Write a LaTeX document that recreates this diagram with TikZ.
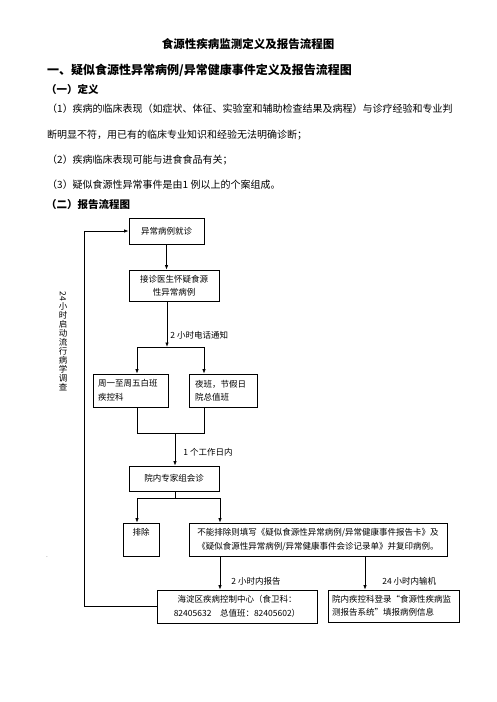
\documentclass[tikz,border=0pt]{standalone}
\usepackage{fontspec}
\setmainfont{Noto Sans CJK SC}
\usetikzlibrary{arrows.meta, positioning}

\begin{document}
\begin{tikzpicture}[x=1pt, y=-1pt,
	box/.style={draw, line width=0.8pt, inner sep=3pt, font=\fontsize{8.5}{13.5}\selectfont},
	flow/.style={line width=0.8pt},
	arr/.style={flow, -{Latex[length=4.5pt, width=3.5pt]}},
	lbl/.style={font=\fontsize{8.5}{10}\selectfont, inner sep=0pt},
	body/.style={font=\fontsize{10}{12}\selectfont, anchor=west, inner sep=0pt},
	head/.style={font=\bfseries\fontsize{10.5}{12}\selectfont, anchor=west, inner sep=0pt}]

\useasboundingbox[fill=white] (0,0) rectangle (496,702); % page

% heading and definition text
\node[font=\bfseries\fontsize{11.5}{13}\selectfont, inner sep=0pt] (title) at (248,44) {食源性疾病监测定义及报告流程图};
\node[font=\bfseries\fontsize{12}{14}\selectfont, anchor=west, inner sep=0pt] (part1) at (47,70) {一、疑似食源性异常病例/异常健康事件定义及报告流程图};
\node[head] (def) at (46,89) {（一）定义};
\node[body] (def1a) at (47,109) {（1）疾病的临床表现（如症状、体征、实验室和辅助检查结果及病程）与诊疗经验和专业判};
\node[body] (def1b) at (47,135) {断明显不符，用已有的临床专业知识和经验无法明确诊断；};
\node[body] (def2) at (47,160) {（2）疾病临床表现可能与进食食品有关；};
\node[body] (def3) at (47,185) {（3）疑似食源性异常事件是由1 例以上的个案组成。};
\node[head] (flowhead) at (46,205) {（二）报告流程图};

% boxes
\node[box, minimum width=75pt, minimum height=26pt] (visit) at (166.5,231) {异常病例就诊};
\node[box, minimum width=90pt, minimum height=31pt, align=center] (suspect) at (174,285.5) {接诊医生怀疑食源\\性异常病例};
\node[box, text width=65pt, inner xsep=5pt, minimum height=33pt, align=left] (weekday) at (130.5,390.5) {周一至周五白班\\疾控科};
\node[box, text width=56pt, inner xsep=6pt, minimum height=33pt, align=left] (holiday) at (223,390.5) {夜班，节假日\\院总值班};
\node[box, minimum width=90pt, minimum height=25pt] (expert) at (174,478.5) {院内专家组会诊};
\node[box, minimum width=36pt, minimum height=33pt,
	label={[lbl, anchor=north, yshift=-5pt]north:排除}] (exclude) at (141,539.5) {};
\node[box, minimum width=258pt, minimum height=33pt, align=center] (report) at (318,539.5) {不能排除则填写《疑似食源性异常病例/异常健康事件报告卡》及\\《疑似食源性异常病例/异常健康事件会诊记录单》并复印病例。};
\node[box, minimum width=160pt, minimum height=33pt, align=center] (cdc) at (237,606.5) {海淀区疾病控制中心（食卫科：\\82405632\quad 总值班：82405602）};
\node[box, text width=123pt, inner xsep=4pt, minimum height=32pt, align=left] (system) at (393.5,606) {院内疾控科登录“食源性疾病监\\测报告系统”填报病例信息};

\node[lbl, align=center, font=\fontsize{8.5}{9}\selectfont] (survey) at (63,341) {\rotatebox{-90}{24}\\小\\时\\启\\动\\流\\行\\病\\学\\调\\查};
\node[lbl, font=\tiny] (dot) at (47,557) {.};

% branch points
\coordinate (split) at (167,347);
\coordinate (splitL) at (137,347);
\coordinate (splitR) at (204,347);
\coordinate (joinL) at (137,433);
\coordinate (joinR) at (204,433);
\coordinate (join) at (175,433);
\coordinate (split2) at (175,498);
\coordinate (split2L) at (137,498);
\coordinate (split2R) at (220,498);
\coordinate (tap) at (365,556);
\coordinate (back) at (84,606.5);

% connectors
\draw[arr] (visit.south) -- (visit.south |- suspect.north);
\draw[arr] (split |- suspect.south) -- node[lbl, pos=0.75, right=3pt] {2 小时电话通知} (split);
\draw[flow] (splitL) -- (splitR);
\draw[arr] (splitL) -- (splitL |- weekday.north);
\draw[arr] (splitR) -- (splitR |- holiday.north);
\draw[flow] (joinL |- weekday.south) -- (joinL) -- (joinR) -- (joinR |- holiday.south);
\draw[arr] (join) -- node[lbl, pos=0.58, right=8pt] {1 个工作日内} (join |- expert.north);
\draw[flow] (join |- expert.south) -- (split2);
\draw[flow] (split2L) -- (split2R);
\draw[arr] (split2L) -- (split2L |- exclude.north);
\draw[arr] (split2R) -- (split2R |- report.north);
\draw[arr] (split2R |- report.south) -- node[lbl, pos=0.76, right=11pt] {2 小时内报告} (split2R |- cdc.north);
\draw[arr] (tap) -- node[lbl, pos=0.76, right=17pt] {24 小时内输机} (tap |- system.north);
\draw[arr] (cdc.west) -- (back) -- (back |- visit.west) -- (visit.west); % feedback loop

\end{tikzpicture}
\end{document}
